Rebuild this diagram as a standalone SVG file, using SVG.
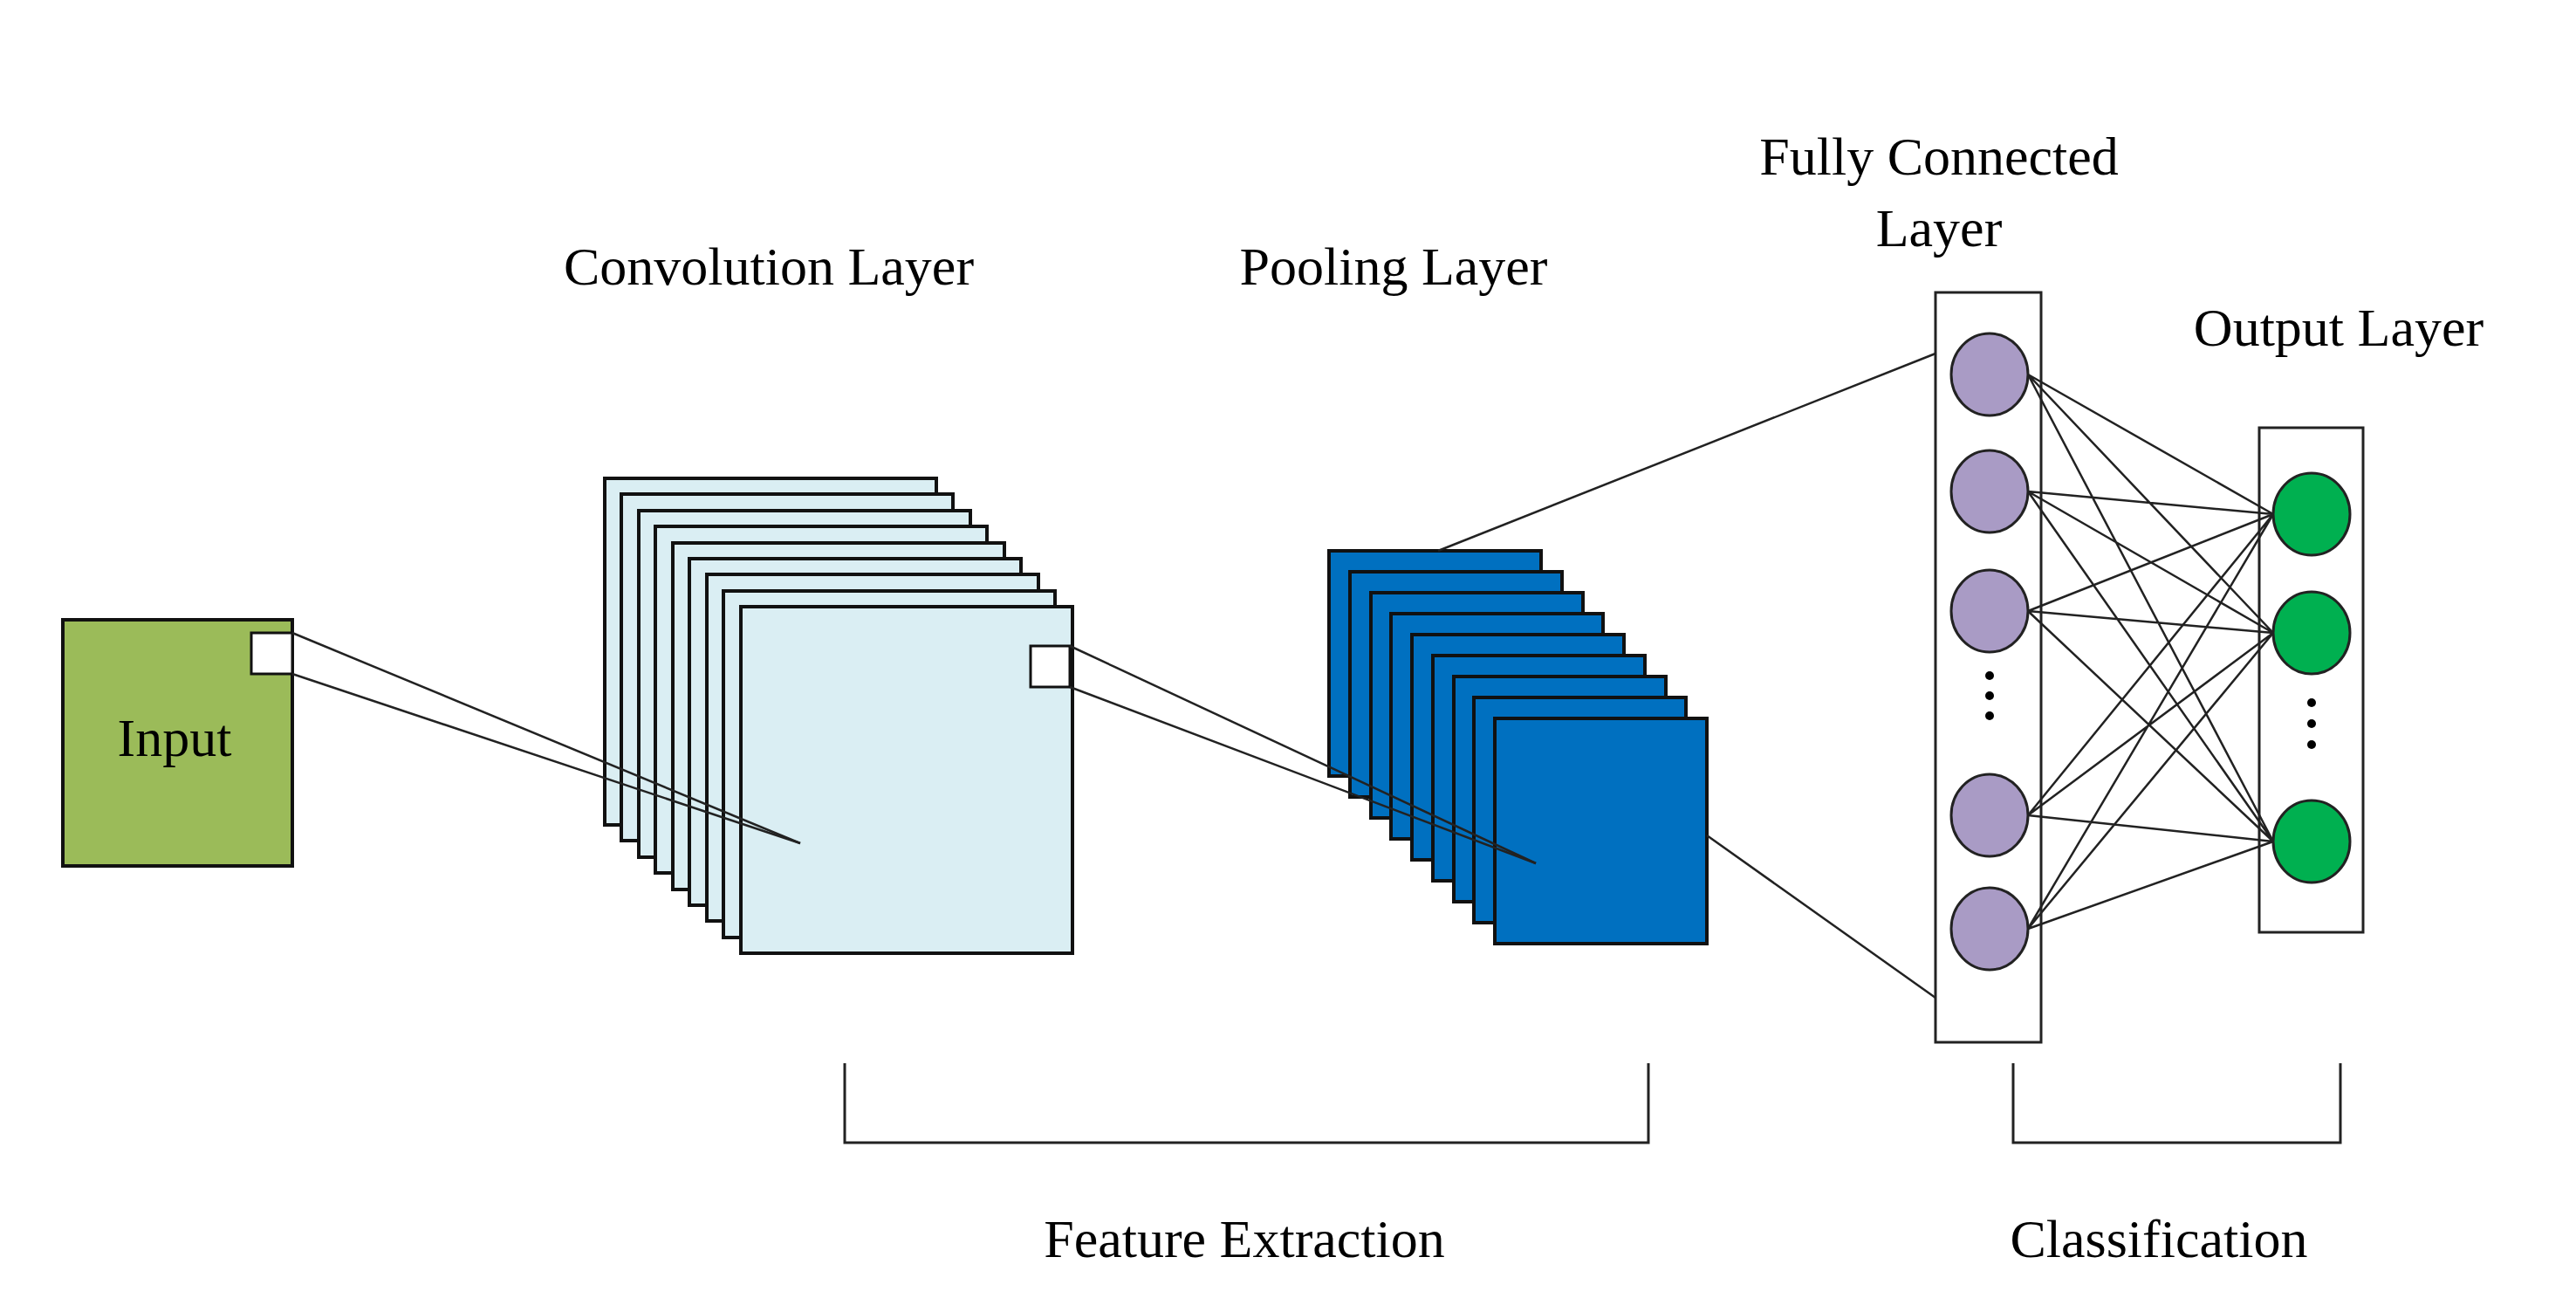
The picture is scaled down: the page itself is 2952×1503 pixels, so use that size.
<svg xmlns="http://www.w3.org/2000/svg" width="2952" height="1503" viewBox="0 0 2952 1503">
<style>
text{font-family:"Liberation Serif","Times New Roman",serif;font-size:62px;fill:#000;text-anchor:middle}
.conv{fill:#DAEEF3;stroke:#111;stroke-width:4}
.pool{fill:#0070C0;stroke:#111;stroke-width:4}
.ln{stroke:#222;stroke-width:2.5;fill:none}
.fc{fill:#A99BC5;stroke:#222;stroke-width:3}
.out{fill:#00B050;stroke:#222;stroke-width:3}
.box{fill:#fff;stroke:#222;stroke-width:3}
</style>
<rect width="2952" height="1503" fill="#fff"/>
<g id="input">
<rect x="72" y="710" width="263" height="282" fill="#9BBB59" stroke="#111" stroke-width="4"/>
<rect x="288" y="725" width="47" height="47" fill="#fff" stroke="#111" stroke-width="3"/>
<text x="200" y="866">Input</text>
</g>
<g id="conv">
<rect class="conv" x="693" y="548" width="380" height="397"/>
<rect class="conv" x="712" y="566" width="380" height="397"/>
<rect class="conv" x="732" y="585" width="380" height="397"/>
<rect class="conv" x="751" y="603" width="380" height="397"/>
<rect class="conv" x="771" y="622" width="380" height="397"/>
<rect class="conv" x="790" y="640" width="380" height="397"/>
<rect class="conv" x="810" y="658" width="380" height="397"/>
<rect class="conv" x="829" y="677" width="380" height="397"/>
<rect class="conv" x="849" y="695" width="380" height="397"/>
<rect x="1181" y="740" width="45" height="47" fill="#fff" stroke="#111" stroke-width="3"/>
<text x="881" y="326">Convolution Layer</text>
</g>
<g id="pool">
<rect class="pool" x="1523" y="631" width="243" height="258"/>
<rect class="pool" x="1547" y="655" width="243" height="258"/>
<rect class="pool" x="1571" y="679" width="243" height="258"/>
<rect class="pool" x="1594" y="703" width="243" height="258"/>
<rect class="pool" x="1618" y="727" width="243" height="258"/>
<rect class="pool" x="1642" y="751" width="243" height="258"/>
<rect class="pool" x="1666" y="775" width="243" height="258"/>
<rect class="pool" x="1689" y="799" width="243" height="258"/>
<rect class="pool" x="1713" y="823" width="243" height="258"/>
<text x="1597" y="326">Pooling Layer</text>
</g>
<g id="fc">
<rect class="box" x="2218" y="335" width="121" height="859"/>
<ellipse class="fc" cx="2280" cy="429" rx="44" ry="47"/>
<ellipse class="fc" cx="2280" cy="563" rx="44" ry="47"/>
<ellipse class="fc" cx="2280" cy="700" rx="44" ry="47"/>
<ellipse class="fc" cx="2280" cy="934" rx="44" ry="47"/>
<ellipse class="fc" cx="2280" cy="1064" rx="44" ry="47"/>
<circle cx="2280" cy="774" r="5"/><circle cx="2280" cy="797" r="5"/><circle cx="2280" cy="820" r="5"/>
<text x="2222" y="200">Fully Connected</text>
<text x="2222" y="282">Layer</text>
</g>
<g id="output">
<rect class="box" x="2589" y="490" width="119" height="578"/>
<ellipse class="out" cx="2649" cy="589" rx="44" ry="47"/>
<ellipse class="out" cx="2649" cy="725" rx="44" ry="47"/>
<ellipse class="out" cx="2649" cy="964" rx="44" ry="47"/>
<circle cx="2649" cy="805" r="5"/><circle cx="2649" cy="829" r="5"/><circle cx="2649" cy="853" r="5"/>
<text x="2680" y="396">Output Layer</text>
</g>
<g id="connectors" class="ln">
<line x1="335" y1="725" x2="917" y2="966"/>
<line x1="335" y1="772" x2="917" y2="966"/>
<line x1="1226" y1="740" x2="1760" y2="989"/>
<line x1="1226" y1="787" x2="1760" y2="989"/>
<line x1="1648" y1="631" x2="2218" y2="405"/>
<line x1="1956" y1="957" x2="2218" y2="1143"/>
<path d="M2324 429L2605 589M2324 429L2605 725M2324 429L2605 964M2324 563L2605 589M2324 563L2605 725M2324 563L2605 964M2324 700L2605 589M2324 700L2605 725M2324 700L2605 964M2324 934L2605 589M2324 934L2605 725M2324 934L2605 964M2324 1064L2605 589M2324 1064L2605 725M2324 1064L2605 964"/>
</g>
<g id="brackets" class="ln" style="stroke-width:3">
<path d="M968 1218V1309H1889V1218"/>
<path d="M2307 1218V1309H2682V1218"/>
</g>
<g id="labels">
<text x="1426" y="1440">Feature Extraction</text>
<text x="2474" y="1440">Classification</text>
</g>
</svg>
